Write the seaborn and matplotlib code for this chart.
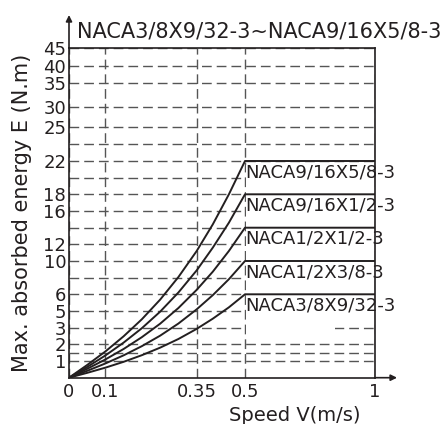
import numpy as np
import pandas as pd
import seaborn as sns
import matplotlib.pyplot as plt
from matplotlib.patches import Rectangle

# values
speed = [0, 0.05, 0.1, 0.15, 0.2, 0.25, 0.3, 0.35, 0.4, 0.45, 0.5, 1.0]
models = ["NACA9/16X5/8-3", "NACA9/16X1/2-3", "NACA1/2X1/2-3",
          "NACA1/2X3/8-3", "NACA3/8X9/32-3"]
e_9_16x5_8 = [0, 0.76, 1.57, 2.48, 4.01, 5.68, 8.08, 11.2, 14.4, 18.0, 22, 22]
e_9_16x1_2 = [0, 0.64, 1.33, 2.10, 2.97, 4.92, 6.22, 8.88, 11.6, 14.6, 18, 18]
e_1_2x1_2 = [0, 0.53, 1.09, 1.72, 2.43, 3.48, 5.18, 6.54, 8.72, 11.2, 14, 14]
e_1_2x3_8 = [0, 0.41, 0.85, 1.34, 1.89, 2.52, 3.50, 5.10, 5.95, 7.82, 10, 10]
e_3_8x9_32 = [0, 0.29, 0.60, 0.95, 1.35, 1.80, 2.32, 2.93, 4.08, 5.22, 6, 6]

y_major = [1, 2, 3, 5, 6, 10, 12, 16, 18, 22, 25, 30, 35, 40, 45]
y_minor = [1.5, 8, 14, 20, 23.5]
x_ticks = [0, 0.1, 0.35, 0.5, 1]
x_labels = ["0", "0.1", "0.35", "0.5", "1"]

series = [e_9_16x5_8, e_9_16x1_2, e_1_2x1_2, e_1_2x3_8, e_3_8x9_32]
df = pd.concat([pd.DataFrame({"v": speed, "E": e, "model": m})
                for m, e in zip(models, series)], ignore_index=True)

# the original chart uses uneven spacing on both axes
y_knots = [0, 1, 1.5, 2, 3, 5, 6, 8, 10, 12, 14, 16, 18, 20, 22, 23.5, 25, 30, 35, 40, 45]
y_place = [0, 16.7, 25, 33.4, 50, 66.7, 83.4, 100, 116.7, 133.4, 150, 166.7, 183.4,
           200, 216.7, 233.4, 250.7, 271, 294.5, 311.7, 329.7]
x_knots = [0, 0.1, 0.35, 0.5, 1]
x_place = [0, 36.3, 127.7, 176, 306]

ink = "#231f20"

sns.set_style("white")
plt.rcParams["font.family"] = ["DejaVu Sans"]

fig = plt.figure(figsize=(4.45, 4.24), dpi=100)
ax = fig.add_axes([69 / 445, 1 - 377.7 / 424, 306 / 445, 329.7 / 424])

sns.lineplot(data=df, x="v", y="E", hue="model", palette=[ink] * 5,
             legend=False, sort=False, lw=1.4, ax=ax, zorder=3)

ax.set_xscale("function", functions=(lambda v: np.interp(v, x_knots, x_place),
                                     lambda p: np.interp(p, x_place, x_knots)))
ax.set_yscale("function", functions=(lambda v: np.interp(v, y_knots, y_place),
                                     lambda p: np.interp(p, y_place, y_knots)))
ax.set_xlim(0, 1)
ax.set_ylim(0, 45)

ax.set_xticks(x_ticks)
ax.set_xticklabels(x_labels)
ax.set_yticks(y_major)
ax.set_yticks(y_minor, minor=True)
ax.tick_params(which="both", length=0, labelsize=13, colors=ink)
ax.tick_params(axis="x", pad=4)
ax.tick_params(axis="y", pad=2)

ax.set_axisbelow(True)
ax.grid(True, which="both", color="#555555", lw=1.0, ls=(0, (7, 3.6)))

# blank area behind the labels
ax.add_patch(Rectangle((0.505, 3.6), 0.49, 17.9, color="white", zorder=0.8, lw=0))
ax.add_patch(Rectangle((0.505, 2.5), 0.34, 1.2, color="white", zorder=0.8, lw=0))

for m, e in zip(models, series):
    ax.annotate(m, xy=(0.5, e[-1]), xytext=(0, -8), textcoords="offset points",
                ha="left", va="center", fontsize=13, color=ink, zorder=4,
                annotation_clip=False)

for s in ax.spines.values():
    s.set_color(ink)
    s.set_linewidth(1.2)

arrow = dict(arrowstyle="-|>", color=ink, lw=1.2, mutation_scale=9,
             shrinkA=0, shrinkB=0)
ax.annotate("", xy=(0, 1.1), xytext=(0, 1), xycoords="axes fraction", arrowprops=arrow)
ax.annotate("", xy=(1.072, 0), xytext=(1, 0), xycoords="axes fraction", arrowprops=arrow)

ax.text(0.025, 1.032, "NACA3/8X9/32-3~NACA9/16X5/8-3", transform=ax.transAxes,
        fontsize=15, color=ink, va="baseline", ha="left")

ax.set_xlabel("Speed V(m/s)", fontsize=14, color=ink)
ax.xaxis.set_label_coords(0.739, -0.087)
ax.set_ylabel("Max. absorbed energy E (N.m)", fontsize=15, color=ink)
ax.yaxis.set_label_coords(-0.122, 0.5)

fig.savefig("out.png", dpi=100)
